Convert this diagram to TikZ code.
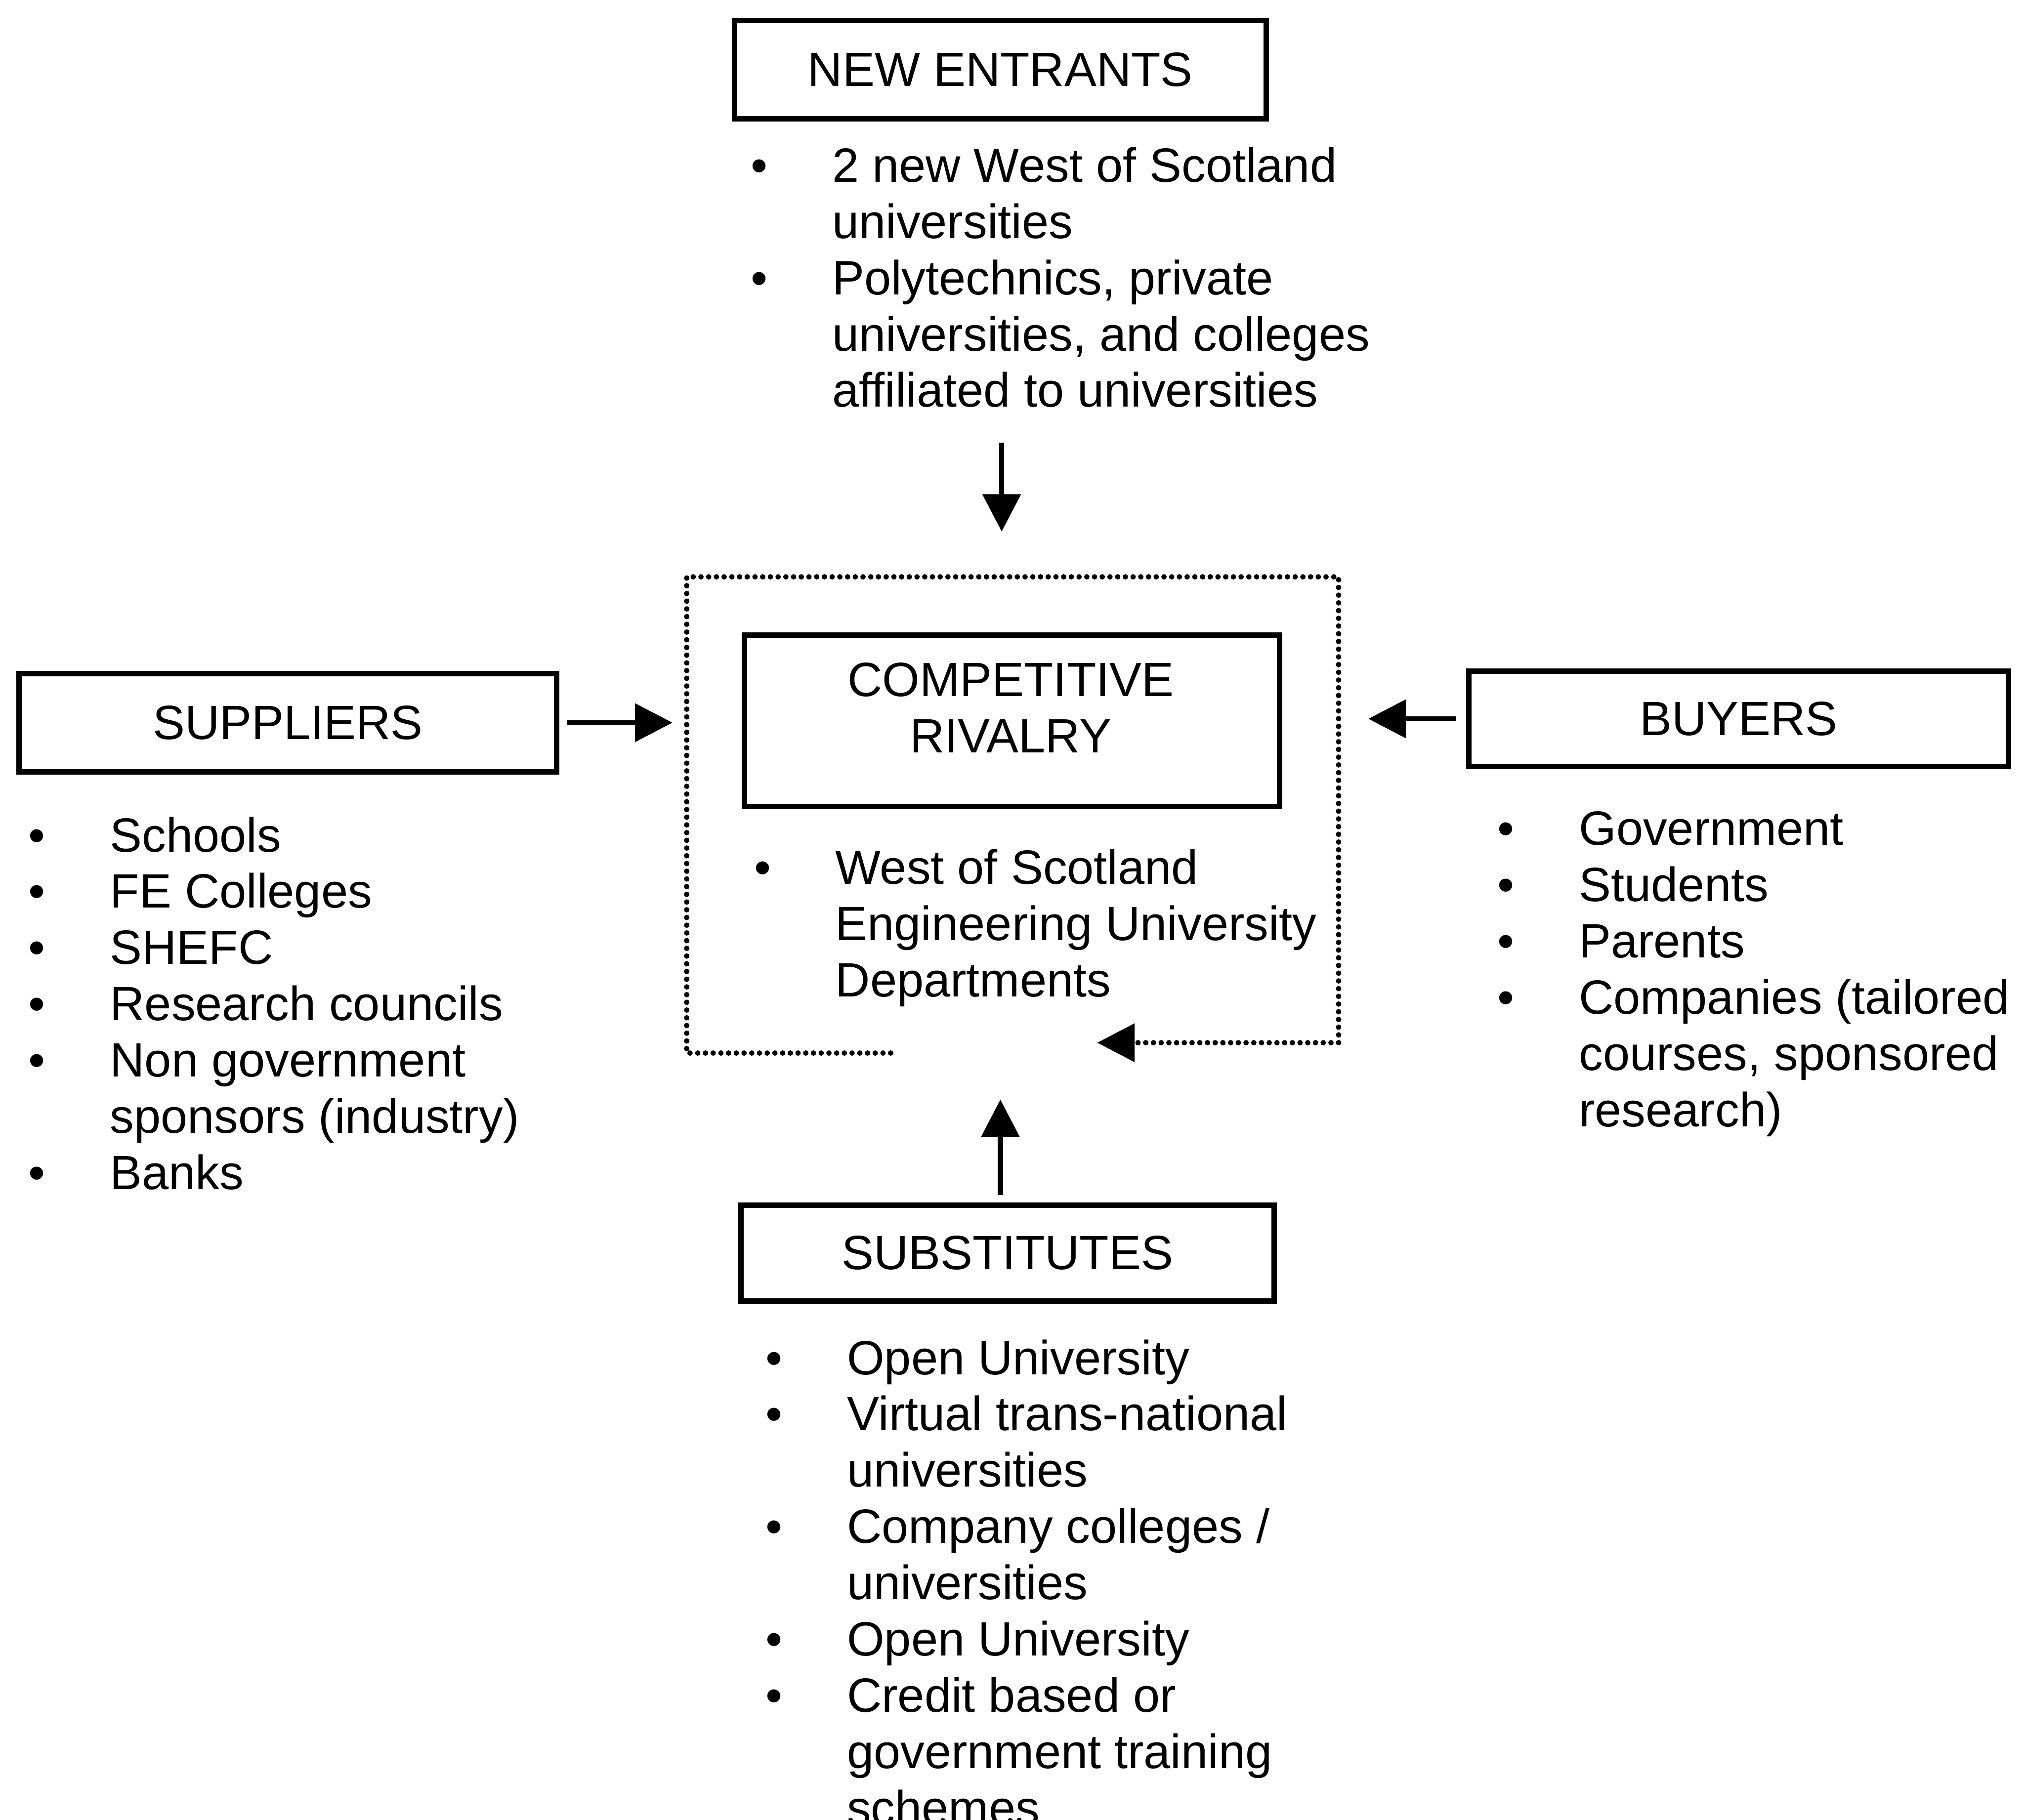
\documentclass[tikz,border=0pt]{standalone}
\usepackage{fontspec}
\setmainfont{Liberation Sans}
\usetikzlibrary{arrows.meta}
% bullet list: bullet column, then the text column
\newcommand{\bulletlist}[1]{\begin{tabular}[t]{@{}p{0.63cm}@{}l@{}}#1\end{tabular}}
\newcommand{\bu}{\textbullet}
\begin{document}
\begin{tikzpicture}[x=0.01cm,y=-0.01cm,
  every node/.style={font=\fontsize{10.6}{12.4}\selectfont},
  forcebox/.style={draw, line width=1.2pt, inner sep=0pt},
  boxtext/.style={inner sep=0pt, align=center},
  itemlist/.style={inner sep=0pt, anchor=base west},
  arr/.style={line width=1.1pt, -{Triangle[length=2.9mm,width=2.9mm]}},
  cycleline/.style={line width=1.2pt, line cap=round, dash pattern=on 0pt off 1.7pt,
    -{Triangle[length=2.9mm,width=2.9mm]}}]
\useasboundingbox (0,0) rectangle (1568,1410);

% ---- the five forces boxes ----
\node[forcebox, minimum width=4.12cm, minimum height=0.76cm] (ne) at (775,54) {NEW ENTRANTS};
\node[forcebox, minimum width=4.14cm, minimum height=1.33cm] (cr) at (784,558.5) {};
\node[boxtext] (crtext) at (783,548.5) {COMPETITIVE\\RIVALRY};
\node[forcebox, minimum width=4.16cm, minimum height=0.76cm] (sup) at (223,560) {SUPPLIERS};
\node[forcebox, minimum width=4.18cm, minimum height=0.74cm] (buy) at (1347,557) {BUYERS};
\node[forcebox, minimum width=4.13cm, minimum height=0.74cm] (sub) at (780.5,971) {SUBSTITUTES};

% ---- lists ----
\node[itemlist] (nelist) at (581,141) {\bulletlist{
  \bu & 2 new West of Scotland\\
      & universities\\
  \bu & Polytechnics, private\\
      & universities, and colleges\\
      & affiliated to universities}};

\node[itemlist] (crlist) at (583.5,685) {\bulletlist{
  \bu & West of Scotland\\
      & Engineering University\\
      & Departments}};

\node[itemlist] (suplist) at (21.5,660) {\bulletlist{
  \bu & Schools\\
  \bu & FE Colleges\\
  \bu & SHEFC\\
  \bu & Research councils\\
  \bu & Non government\\
      & sponsors (industry)\\
  \bu & Banks}};

\node[itemlist] (buylist) at (1159.5,655) {\bulletlist{
  \bu & Government\\
  \bu & Students\\
  \bu & Parents\\
  \bu & Companies (tailored\\
      & courses, sponsored\\
      & research)}};

\node[itemlist] (sublist) at (592.5,1065) {\bulletlist{
  \bu & Open University\\
  \bu & Virtual trans-national\\
      & universities\\
  \bu & Company colleges /\\
      & universities\\
  \bu & Open University\\
  \bu & Credit based or\\
      & government training\\
      & schemes}};

% ---- dotted rivalry loop ----
\coordinate (zTL) at (532,447);
\coordinate (zTR) at (1037,447);
\coordinate (zBR) at (1037,808);
\coordinate (zBL) at (532,816);
\coordinate (zBLend) at (690,816);
\coordinate (zTip) at (850,808);
\draw[cycleline] (zBLend) -- (zBL) -- (zTL) -- (zTR) -- (zBR) -- (zTip);

% ---- force arrows ----
\coordinate (neFoot) at (776,343);
\draw[arr, shorten >=0.35cm] (neFoot) -- (neFoot |- zTL);
\draw[arr, shorten <=0.06cm, shorten >=0.11cm] (sup.east) -- (sup.east -| zTL);
\draw[arr, shorten <=0.08cm, shorten >=0.23cm] (buy.west) -- (buy.west -| zTR);
\draw[arr, shorten <=0.06cm, shorten >=0.36cm] ([xshift=-0.055cm]sub.north) -- ([xshift=-0.055cm]sub.north |- zBL);
\end{tikzpicture}
\end{document}
